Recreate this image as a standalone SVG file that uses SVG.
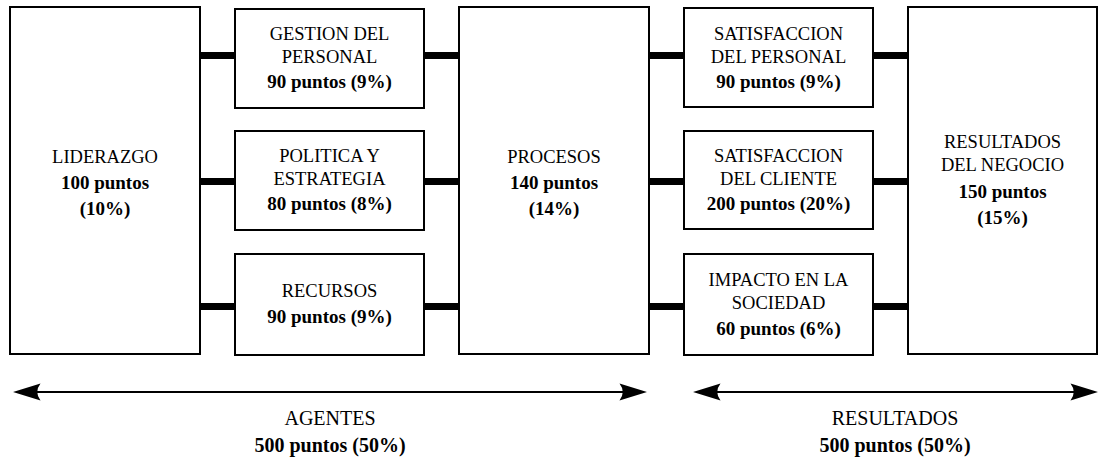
<svg xmlns="http://www.w3.org/2000/svg" width="1099" height="471" viewBox="0 0 1099 471">
  <style>
    .box { fill: #fff; stroke: #000; stroke-width: 2; }
    .t { font-family: "Liberation Serif", "Times New Roman", serif; font-size: 18.5px; fill: #000; text-anchor: middle; }
    .b { font-weight: bold; font-size: 19px; }
    .big { font-size: 20px; }
    .bar { fill: #000; }
    .axis { stroke: #000; stroke-width: 2; fill: none; }
    .head { fill: #000; }
  </style>

  <!-- thick links between columns -->
  <g id="connectors">
    <rect class="bar" x="200" y="52" width="35" height="7"/>
    <rect class="bar" x="200" y="178" width="35" height="7"/>
    <rect class="bar" x="200" y="303" width="35" height="7"/>
    <rect class="bar" x="424" y="52" width="35" height="7"/>
    <rect class="bar" x="424" y="178" width="35" height="7"/>
    <rect class="bar" x="424" y="303" width="35" height="7"/>
    <rect class="bar" x="649" y="52" width="35" height="7"/>
    <rect class="bar" x="649" y="178" width="35" height="7"/>
    <rect class="bar" x="649" y="303" width="35" height="7"/>
    <rect class="bar" x="873" y="52" width="35" height="7"/>
    <rect class="bar" x="873" y="178" width="35" height="7"/>
    <rect class="bar" x="873" y="303" width="35" height="7"/>
  </g>

  <g id="liderazgo">
    <rect class="box" x="10" y="7" width="190" height="347"/>
    <text class="t" x="105" y="163">LIDERAZGO</text>
    <text class="t b" x="105" y="189">100 puntos</text>
    <text class="t b" x="105" y="215">(10%)</text>
  </g>

  <g id="gestion-personal">
    <rect class="box" x="235" y="9" width="189" height="99"/>
    <text class="t" x="329.5" y="40">GESTION DEL</text>
    <text class="t" x="329.5" y="63">PERSONAL</text>
    <text class="t b" x="329.5" y="88">90 puntos (9%)</text>
  </g>

  <g id="politica-estrategia">
    <rect class="box" x="235" y="131" width="189" height="99"/>
    <text class="t" x="329.5" y="162">POLITICA Y</text>
    <text class="t" x="329.5" y="185">ESTRATEGIA</text>
    <text class="t b" x="329.5" y="210">80 puntos (8%)</text>
  </g>

  <g id="recursos">
    <rect class="box" x="235" y="254" width="189" height="101"/>
    <text class="t" x="329.5" y="297">RECURSOS</text>
    <text class="t b" x="329.5" y="323">90 puntos (9%)</text>
  </g>

  <g id="procesos">
    <rect class="box" x="459" y="7" width="190" height="347"/>
    <text class="t" x="554" y="163">PROCESOS</text>
    <text class="t b" x="554" y="189">140 puntos</text>
    <text class="t b" x="554" y="215">(14%)</text>
  </g>

  <g id="satisfaccion-personal">
    <rect class="box" x="684" y="8" width="189" height="99"/>
    <text class="t" x="778.5" y="40">SATISFACCION</text>
    <text class="t" x="778.5" y="63">DEL PERSONAL</text>
    <text class="t b" x="778.5" y="88">90 puntos (9%)</text>
  </g>

  <g id="satisfaccion-cliente">
    <rect class="box" x="684" y="131" width="189" height="98"/>
    <text class="t" x="778.5" y="162">SATISFACCION</text>
    <text class="t" x="778.5" y="185">DEL CLIENTE</text>
    <text class="t b" x="778.5" y="210">200 puntos (20%)</text>
  </g>

  <g id="impacto-sociedad">
    <rect class="box" x="684" y="254" width="189" height="101"/>
    <text class="t" x="778.5" y="286">IMPACTO EN LA</text>
    <text class="t" x="778.5" y="309">SOCIEDAD</text>
    <text class="t b" x="778.5" y="335">60 puntos (6%)</text>
  </g>

  <g id="resultados-negocio">
    <rect class="box" x="908" y="7" width="189" height="347"/>
    <text class="t" x="1002.5" y="148">RESULTADOS</text>
    <text class="t" x="1002.5" y="171">DEL NEGOCIO</text>
    <text class="t b" x="1002.5" y="198">150 puntos</text>
    <text class="t b" x="1002.5" y="224">(15%)</text>
  </g>

  <!-- span arrows along the bottom -->
  <g id="agentes">
    <line class="axis" x1="30" y1="392" x2="630" y2="392"/>
    <path class="head" d="M13,392 L40.5,383.5 Q34,392 40.5,400.5 Z"/>
    <path class="head" d="M647,392 L619.5,383.5 Q626,392 619.5,400.5 Z"/>
    <text class="t big" x="330" y="425">AGENTES</text>
    <text class="t b big" x="330" y="452">500 puntos (50%)</text>
  </g>

  <g id="resultados">
    <line class="axis" x1="710" y1="392" x2="1080" y2="392"/>
    <path class="head" d="M693,392 L720.5,383.5 Q714,392 720.5,400.5 Z"/>
    <path class="head" d="M1098,392 L1070.5,383.5 Q1077,392 1070.5,400.5 Z"/>
    <text class="t big" x="895" y="425">RESULTADOS</text>
    <text class="t b big" x="895" y="452">500 puntos (50%)</text>
  </g>
</svg>
